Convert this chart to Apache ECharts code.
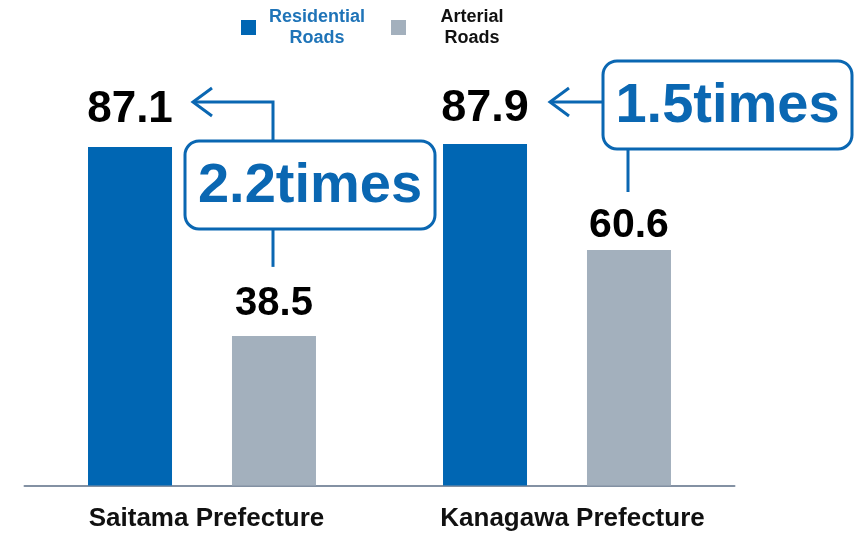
<!DOCTYPE html>
<html>
<head>
<meta charset="utf-8">
<script src="https://cdn.jsdelivr.net/npm/echarts@6/dist/echarts.min.js"></script>
<style>
html,body{margin:0;padding:0;background:#fff;}
#c{width:863px;height:533px;}
</style>
</head>
<body>
<div id="c"></div>
<script>
const categories = ['Saitama Prefecture', 'Kanagawa Prefecture'];
const seriesNames = ['Residential Roads', 'Arterial Roads'];
const residential = [87.1, 87.9];
const arterial = [38.5, 60.6];
const ratioLabels = ['2.2times', '1.5times'];

const BLUE = '#0066b3';
const GRAY = '#a3b0bd';
const LINE_BLUE = '#0a67b2';
const FONT = '"Liberation Sans", Arial, Helvetica, sans-serif';

const resLabel = [{fontSize: 44, distance: 15}, {fontSize: 45, distance: 13}];
const artLabel = [{fontSize: 40, distance: 12}, {fontSize: 41, distance: 4}];
const catPad = [[0, 0, 0, 9], [0, 0, 0, 31]];

const chart = echarts.init(document.getElementById('c'));

const option = {
  animation: false,
  textStyle: {fontFamily: FONT},
  legend: {
    left: 241,
    top: 8,
    padding: 0,
    itemWidth: 15,
    itemHeight: 15,
    itemGap: 24,
    icon: 'rect',
    selectedMode: false,
    data: seriesNames.map(n => ({name: n})),
    formatter: function (name) {
      const parts = name.split(' ');
      const k = name === seriesNames[0] ? 'a' : 'b';
      return '{' + k + '|' + parts[0] + '}\n{' + k + '|' + parts[1] + '}';
    },
    textStyle: {
      fontFamily: FONT,
      fontWeight: 'bold',
      fontSize: 18,
      rich: {
        a: {width: 100, align: 'center', color: '#1f74b8', fontSize: 18, fontWeight: 'bold', lineHeight: 21, padding: [0, 0, 0, 6], fontFamily: FONT},
        b: {width: 110, align: 'center', color: '#111111', fontSize: 18, fontWeight: 'bold', lineHeight: 21, padding: [0, 0, 0, 6], fontFamily: FONT}
      }
    }
  },
  grid: {left: 24.5, right: 128.5, top: 96.9, bottom: 47.5, containLabel: false},
  xAxis: {
    type: 'category',
    data: categories.map((c, i) => ({value: c, textStyle: {padding: catPad[i]}})),
    axisLine: {lineStyle: {color: '#8391a3', width: 2}},
    axisTick: {show: false},
    axisLabel: {fontSize: 26, fontWeight: 'bold', color: '#111111', margin: 20, fontFamily: FONT, interval: 0}
  },
  yAxis: {
    type: 'value',
    min: 0,
    max: 100,
    show: false,
    splitLine: {show: false}
  },
  series: [
    {
      name: seriesNames[0],
      type: 'bar',
      barWidth: 84,
      barGap: '71.4%',
      itemStyle: {color: BLUE},
      data: residential.map((v, i) => ({
        value: v,
        label: {show: true, position: 'top', fontSize: resLabel[i].fontSize, distance: resLabel[i].distance,
          fontWeight: 'bold', color: '#000', fontFamily: FONT}
      }))
    },
    {
      name: seriesNames[1],
      type: 'bar',
      barWidth: 84,
      barGap: '71.4%',
      itemStyle: {color: GRAY},
      data: arterial.map((v, i) => ({
        value: v,
        label: {show: true, position: 'top', fontSize: artLabel[i].fontSize, distance: artLabel[i].distance,
          fontWeight: 'bold', color: '#000', fontFamily: FONT}
      }))
    }
  ]
};
chart.setOption(option);

// Annotations positioned from the data scales
const cx0 = chart.convertToPixel({xAxisIndex: 0}, 0);
const cx1 = chart.convertToPixel({xAxisIndex: 0}, 1);
const yA = chart.convertToPixel({yAxisIndex: 0}, residential[0]);
const yB = chart.convertToPixel({yAxisIndex: 0}, arterial[0]);
const yC = chart.convertToPixel({yAxisIndex: 0}, residential[1]);
const yD = chart.convertToPixel({yAxisIndex: 0}, arterial[1]);

const lineStyle = {stroke: LINE_BLUE, lineWidth: 3, fill: null};
function chevron(tx, ty) {
  return {type: 'polyline', shape: {points: [[tx + 19, ty - 14], [tx, ty], [tx + 19, ty + 14]]}, style: lineStyle, silent: true};
}
function box(x, y, w, h, text) {
  return [
    {type: 'rect', shape: {x: x, y: y, width: w, height: h, r: 14}, style: {stroke: LINE_BLUE, lineWidth: 3, fill: '#fff'}, silent: true},
    {type: 'text', x: x + w / 2, y: y + h / 2 + 2, style: {text: text, fill: LINE_BLUE, font: 'bold 56px ' + FONT, align: 'center', verticalAlign: 'middle'}, silent: true}
  ];
}

// Saitama
const sTipX = cx0 - 9, sLineY = yA - 45, sElbowX = cx0 + 71;
const sBoxX = cx0 - 17, sBoxY = yA - 6, sBoxW = 250, sBoxH = 88;
// Kanagawa
const kTipX = cx1 - 7, kLineY = yC - 42;
const kBoxX = cx1 + 46, kBoxY = yC - 83, kBoxW = 249, kBoxH = 88;
const kStemX = cx1 + 71;

const graphics = [
  {type: 'polyline', shape: {points: [[sTipX, sLineY], [sElbowX, sLineY], [sElbowX, sBoxY]]}, style: lineStyle, silent: true},
  chevron(sTipX, sLineY),
  {type: 'line', shape: {x1: sElbowX, y1: sBoxY + sBoxH, x2: sElbowX, y2: yB - 69}, style: lineStyle, silent: true},
  ...box(sBoxX, sBoxY, sBoxW, sBoxH, ratioLabels[0]),
  {type: 'line', shape: {x1: kTipX, y1: kLineY, x2: kBoxX, y2: kLineY}, style: lineStyle, silent: true},
  chevron(kTipX, kLineY),
  {type: 'line', shape: {x1: kStemX, y1: kBoxY + kBoxH, x2: kStemX, y2: yD - 58}, style: lineStyle, silent: true},
  ...box(kBoxX, kBoxY, kBoxW, kBoxH, ratioLabels[1])
];
chart.setOption({graphic: graphics});
</script>
</body>
</html>
